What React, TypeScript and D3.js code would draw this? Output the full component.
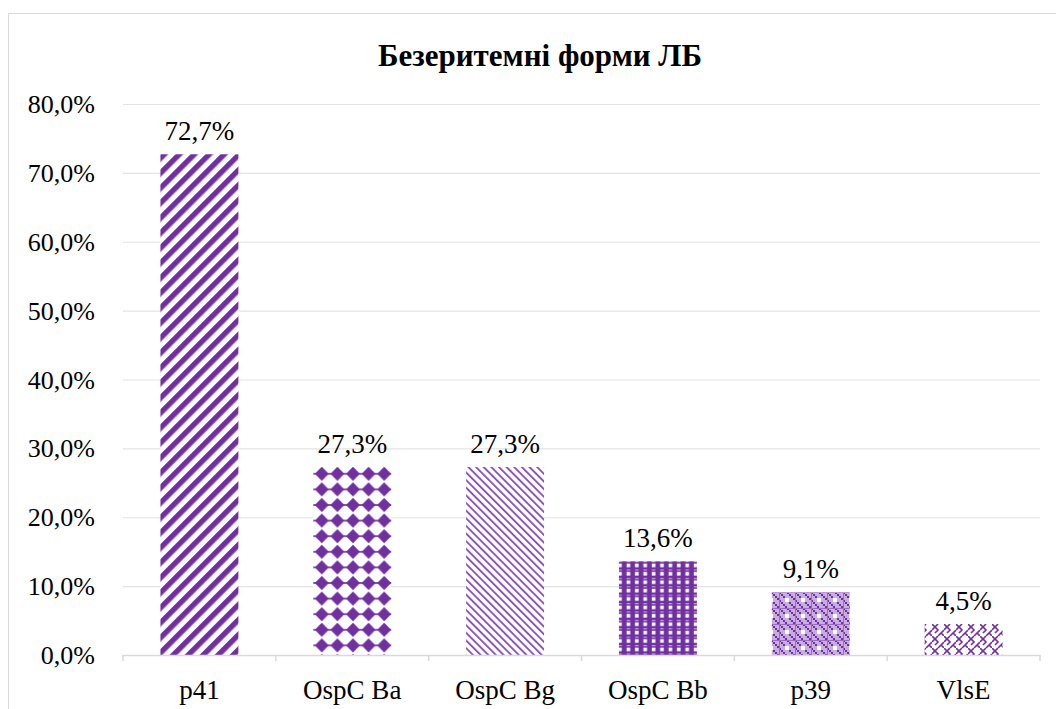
import React from 'react'
import * as d3 from 'd3'

const categories = ['p41', 'OspC Ba', 'OspC Bg', 'OspC Bb', 'p39', 'VlsE']
const values = [72.7, 27.3, 27.3, 13.6, 9.1, 4.5]
const valueLabels = ['72,7%', '27,3%', '27,3%', '13,6%', '9,1%', '4,5%']
const yTicks = [0, 10, 20, 30, 40, 50, 60, 70, 80]
const title = 'Безеритемні форми ЛБ'

const purple = '#7030A0'
const font = "'Liberation Serif', 'Times New Roman', 'DejaVu Serif', serif"

const App = () => {
    const W = 1056
    const H = 709
    const plot = { left: 123, right: 1040, top: 104, bottom: 655 }

    const x = d3.scaleBand().domain(categories).range([plot.left, plot.right]).paddingInner(0.49).paddingOuter(0.245)
    const band = d3.scaleBand().domain(categories).range([plot.left, plot.right])
    const y = d3.scaleLinear().domain([0, 80]).range([plot.bottom, plot.top])
    const fmt = (v: number) => d3.format('.1f')(v).replace('.', ',') + '%'

    const fills = ['url(#pWide)', 'url(#pDiamond)', 'url(#pThin)', 'url(#pGrid)', 'url(#pCheck)', 'url(#pWeave)']

    return (
        <svg width={W} height={H} style={{ position: 'absolute', left: 0, top: 0, fontFamily: font }}>
            <defs>
                <pattern id="pWide" width="10.6" height="10.6" patternUnits="userSpaceOnUse" patternTransform="rotate(45)">
                    <rect width="10.6" height="10.6" fill="white" />
                    <rect width="5.4" height="10.6" fill={purple} />
                </pattern>
                <pattern id="pDiamond" width="15.6" height="15.6" patternUnits="userSpaceOnUse" x="314" y="466">
                    <rect width="15.6" height="15.6" fill="white" />
                    <polygon points="7.8,0.8 14.8,7.8 7.8,14.8 0.8,7.8" fill={purple} />
                    <rect x="0" y="7" width="15.6" height="1.6" fill={purple} />
                </pattern>
                <pattern id="pThin" width="5.4" height="5.4" patternUnits="userSpaceOnUse" patternTransform="rotate(-45)">
                    <rect width="5.4" height="5.4" fill="white" />
                    <rect width="1.9" height="5.4" fill="#8a55b8" />
                </pattern>
                <pattern id="pGrid" width="8.4" height="8.4" patternUnits="userSpaceOnUse" x="624" y="561">
                    <rect width="8.4" height="8.4" fill={purple} />
                    <rect x="2.6" y="2.6" width="3.6" height="3.6" fill="white" />
                    <rect x="2.6" y="0" width="3.6" height="1.2" fill="#c0a0d8" />
                </pattern>
                <pattern id="pCheck" width="16" height="16" patternUnits="userSpaceOnUse" x="779" y="592">
                    <rect width="16" height="16" fill="#c9addf" />
                    {d3.range(0, 16, 4).flatMap(i => d3.range(0, 16, 4).map(j => ((i + j) / 4) % 2 === 0 ?
                        <rect key={i + '-' + j} x={i} y={j} width="2" height="2" fill={purple} /> : null))}
                    {d3.range(2, 16, 4).flatMap(i => d3.range(2, 16, 4).map(j => ((i + j - 4) / 4) % 2 === 0 ?
                        <rect key={'b' + i + '-' + j} x={i} y={j} width="2" height="2" fill={purple} /> : null))}
                    <rect x="6" y="6" width="4" height="4" fill="white" />
                    <rect x="0" y="0" width="16" height="1" fill="#9a6cc4" />
                    <rect x="0" y="0" width="1" height="16" fill="#9a6cc4" />
                </pattern>
                <pattern id="pWeave" width="12" height="12" patternUnits="userSpaceOnUse" x="932" y="624">
                    <rect width="12" height="12" fill="white" />
                    <path d="M0,6 L6,0 M6,12 L12,6 M0,0 L6,6 L3,9 M12,12 L9,9" stroke={purple} strokeWidth="1.6" fill="none" />
                </pattern>
            </defs>

            {/* chart border (cropped on right and bottom) */}
            <path d="M8.5,720 V13.5 H1070" fill="none" stroke="#d9d9d9" strokeWidth="1" />

            <text x={540} y={66} textAnchor="middle" fontSize="31" fontWeight="bold" style={{ fontFamily: font }}>{title}</text>

            {yTicks.map(t => (
                <g key={t}>
                    {t > 0 && <line x1={plot.left} x2={plot.right} y1={y(t) + 0.5} y2={y(t) + 0.5} stroke="#e3e3e3" strokeWidth="1.2" />}
                    <text x={95} y={y(t)} dy="0.35em" textAnchor="end" fontSize="26" style={{ fontFamily: font }}>{fmt(t)}</text>
                </g>
            ))}

            {categories.map((c, i) => (
                <rect key={c} x={x(c)} y={y(values[i])} width={x.bandwidth()} height={plot.bottom - y(values[i])} fill={fills[i]} />
            ))}

            <line x1={plot.left} x2={plot.right} y1={plot.bottom + 0.5} y2={plot.bottom + 0.5} stroke="#d9d9d9" strokeWidth="1.5" />
            {[...categories.map(c => band(c) as number), plot.right].map((v, i) => (
                <line key={i} x1={v} x2={v} y1={plot.bottom} y2={plot.bottom + 6} stroke="#d9d9d9" strokeWidth="1.5" />
            ))}

            {categories.map((c, i) => (
                <text key={c} x={(x(c) as number) + x.bandwidth() / 2} y={y(values[i]) - 14} textAnchor="middle" fontSize="27" style={{ fontFamily: font }}>{valueLabels[i]}</text>
            ))}

            {categories.map(c => (
                <text key={c} x={(band(c) as number) + band.bandwidth() / 2} y={699} textAnchor="middle" fontSize="27" style={{ fontFamily: font }}>{c}</text>
            ))}
        </svg>
    )
}

export default App
